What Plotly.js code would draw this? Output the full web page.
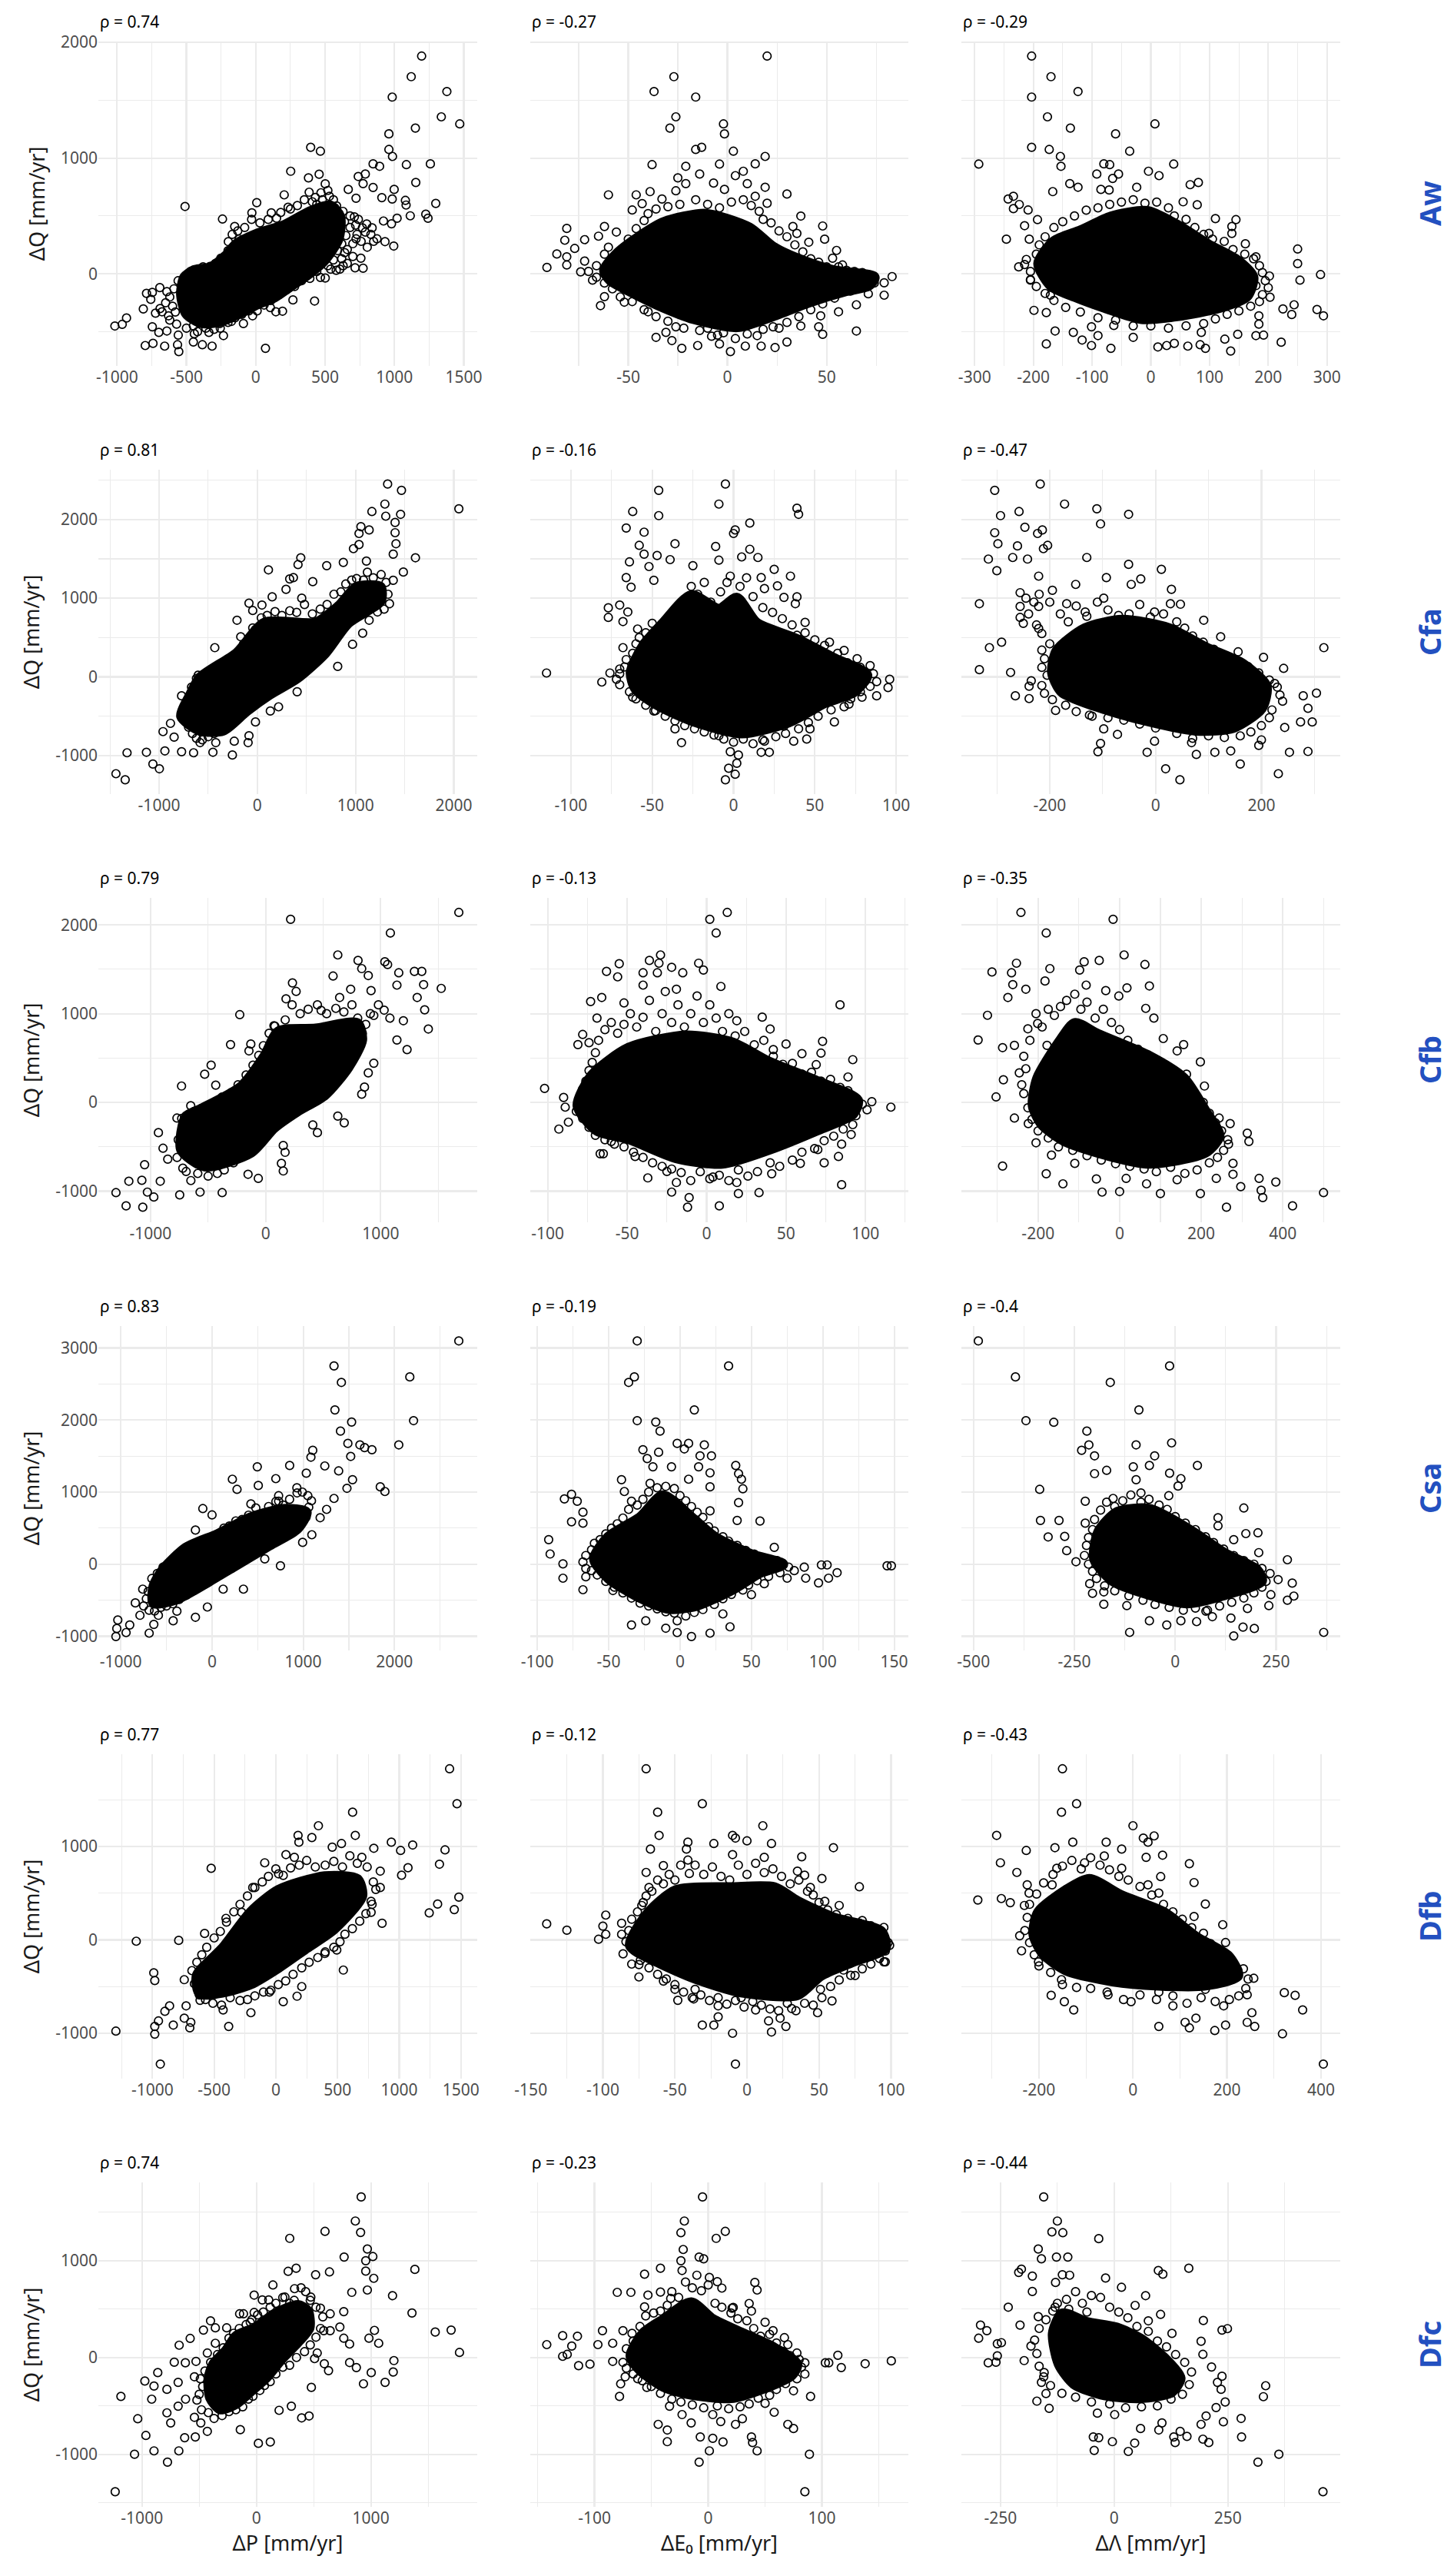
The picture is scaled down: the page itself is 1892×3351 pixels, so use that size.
<!DOCTYPE html>
<html><head><meta charset="utf-8">
<script src="https://cdn.plot.ly/plotly-3.0.1.min.js"></script>
<style>html,body{margin:0;padding:0;background:#fff}</style></head>
<body><div id="chart" style="width:1892px;height:3351px"></div>
<script>
// Values are estimates. *_pts lists hold [x, y] circles that can be told apart.
// *_rim lists hold estimated circles along the crowded edge of each cloud.
// Where circles overlap into solid black they cannot be read one by one, so each *_core list is the
// outline of that solid black region, read from the picture and drawn as a filled shape.
const regions=["Aw","Cfa","Cfb","Csa","Dfb","Dfc"];
const rhoValues=[["0.74","-0.27","-0.29"],["0.81","-0.16","-0.47"],["0.79","-0.13","-0.35"],["0.83","-0.19","-0.4"],["0.77","-0.12","-0.43"],["0.74","-0.23","-0.44"]];
const xTitles=["ΔP [mm/yr]","ΔE₀ [mm/yr]","ΔΛ [mm/yr]"];
const yTitle="ΔQ [mm/yr]";
const yTicks=[[0,1000,2000],[-1000,0,1000,2000],[-1000,0,1000,2000],[-1000,0,1000,2000,3000],[-1000,0,1000],[-1000,0,1000]];
const xTicks=[
[[-1000,-500,0,500,1000,1500],[-50,0,50],[-300,-200,-100,0,100,200,300]],
[[-1000,0,1000,2000],[-100,-50,0,50,100],[-200,0,200]],
[[-1000,0,1000],[-100,-50,0,50,100],[-200,0,200,400]],
[[-1000,0,1000,2000],[-100,-50,0,50,100,150],[-500,-250,0,250]],
[[-1000,-500,0,500,1000,1500],[-150,-100,-50,0,50,100],[-200,0,200,400]],
[[-1000,0,1000],[-100,0,100],[-250,0,250]]];
const yRanges=[[-796,2007],[-1490,2633],[-1350,2305],[-1198,3305],[-1487,1988],[-1543,1809]];
const xRanges=[
[[-1135,1597],[-99.4,91.2],[-322.6,322.6]],
[[-1618,2238],[-125,107.5],[-367,349]],
[[-1454,1839],[-111,127],[-388,541]],
[[-1246,2907],[-104.9,159.9],[-530,409]],
[[-1438,1632],[-150.4,112],[-365,441]],
[[-1381,1929],[-156.5,176],[-336,497]]];

const aw_dP_pts=[[1196,1881],[1121,1703],[1378,1575],[984,1527],[1338,1356],[1471,1295],[1151,1259],[960,1209],[960,1074],[986,1014],[396,1093],[466,1059],[1086,943],[1259,950],[846,950],[893,929],[790,862],[739,841],[252,886],[380,829],[457,860],[774,779],[1154,789],[998,729],[667,729],[846,746],[984,646],[1079,634],[1084,594],[1298,608],[723,653],[909,658],[1114,501],[1226,515],[1242,480],[1019,480],[932,278],[995,240],[979,432],[921,456],[804,230],[758,135],[716,52],[774,48],[205,682],[7,615],[-510,582],[-240,473],[424,-235],[70,-644],[-932,-382],[-963,-437],[-1016,-451],[-811,-304],[-797,-620],[-741,-601],[-657,-625],[-555,-672],[-564,-613],[-385,-613],[-315,-625],[-450,-589],[-233,-534],[193,-323],[145,-328],[268,-226],[-788,-169],[-692,-119],[-641,-154],[-746,-458],[-699,-506],[-641,-494],[-746,-161],[-757,-221],[-723,-340],[-676,-328],[-629,-363],[-571,-435],[-559,-530],[-443,-518],[-338,-506],[-256,-470],[-175,-411],[-89,-430],[-23,-363],[105,-292],[466,-31],[501,-36],[606,40],[641,183],[723,302],[769,397],[839,397],[874,302],[711,492],[629,539],[583,587],[531,670],[501,777],[408,622],[385,705],[233,575],[112,527],[-28,527],[-152,409],[-198,278],[-252,135],[-331,64]];
const aw_dP_rim=[[560,120],[590,200],[620,260],[650,330],[680,400],[640,450],[600,520],[570,570],[620,130],[660,210],[700,260],[730,340],[760,280],[790,360],[720,420],[680,500],[740,470],[800,430],[830,340],[850,280],[660,90],[700,150],[630,70],[580,30],[540,40],[480,640],[520,720],[470,700],[430,660],[560,640],[440,600],[350,640],[300,590],[250,560],[180,530],[150,480],[90,470],[30,440],[-30,470],[-80,400],[-130,370],[-170,340],[-120,300],[-200,200],[-240,110],[-290,90],[-380,60],[-470,20],[-560,-60],[-590,-130],[-620,-200],[-600,-280],[-650,-250],[-690,-300],[-620,-400],[-580,-330],[-500,-470],[-450,-450],[-420,-500],[-360,-470],[-300,-480],[-260,-430],[-200,-420],[-150,-380],[-100,-350],[-50,-320],[10,-320],[60,-270],[110,-230],[170,-180],[220,-140],[280,-110],[330,-60],[390,-40],[440,20],[520,70]];
const aw_dP_core=[[-513,-31],[-443,29],[-326,52],[-210,159],[-140,254],[23,349],[210,420],[396,539],[536,587],[606,492],[594,302],[490,112],[373,-7],[256,-102],[140,-197],[0,-268],[-117,-340],[-256,-411],[-396,-423],[-501,-340],[-536,-173]];
const aw_dE_pts=[[20,1881],[-27,1703],[-37,1575],[-16,1527],[-26,1356],[-2,1295],[-29,1259],[-1.5,1209],[-13,1093],[-16,1074],[3,1059],[19,1014],[-38,943],[-21,929],[-4,948],[14,950],[8,886],[-14,862],[4,848],[-25,829],[-21,779],[-7,784],[10,779],[19,748],[-39,710],[-26,717],[-60,682],[-46,682],[30,689],[-43,606],[-33,646],[-1.5,729],[14,670],[20,610],[37,499],[-48,551],[48,413],[-81,392],[-62,409],[49,299],[-82,290],[-72,295],[-65,325],[-56,361],[33,409],[35,349],[41,273],[55,202],[53,135],[58,76],[-86,171],[-77,219],[-91,55],[-81,76],[-81,147],[-74,17],[-68,-55],[83,-24],[79,-78],[79,-185],[71,-173],[65,-268],[56,-328],[65,-494],[47,-363],[46,-458],[48,-523],[37,-451],[30,-589],[24,-637],[17,-625],[9,-625],[1.5,-672],[-4,-606],[-15,-620],[-23,-644],[-28,-577],[-36,-549],[-31,-506],[-26,-458],[-40,-328],[-52,-245],[-64,-275],[-62,-197],[-5,-530],[15,-534],[23,-458],[-10,-470]];
const aw_dE_rim=[[-58,110],[-52,230],[-50,300],[-46,390],[-42,460],[-40,520],[-36,560],[-30,580],[-24,600],[-16,640],[-10,600],[-4,570],[2,620],[8,640],[12,590],[16,540],[18,470],[22,440],[26,370],[30,320],[34,250],[38,190],[42,130],[46,100],[50,60],[56,60],[60,30],[64,20],[68,10],[70,-50],[74,-80],[66,-110],[62,-150],[54,-210],[48,-260],[42,-310],[36,-370],[30,-420],[26,-470],[18,-480],[10,-520],[4,-560],[-2,-510],[-8,-540],[-14,-490],[-22,-470],[-30,-410],[-36,-370],[-42,-310],[-48,-240],[-54,-200],[-58,-130],[-62,-80],[-66,-30],[-70,20],[-66,70],[-72,110],[-62,170],[-60,230]];
const aw_dE_core=[[-62,29],[-55,183],[-44,325],[-32,444],[-11,515],[11,397],[23,230],[38,112],[53,29],[74,-31],[71,-102],[59,-150],[41,-245],[23,-363],[5,-458],[-17,-388],[-35,-268],[-49,-150],[-59,-55]];
const aw_dL_pts=[[-203,1881],[-170,1703],[-124,1575],[-203,1527],[-176,1356],[7,1295],[-137,1259],[-60,1209],[-203,1093],[-173,1074],[-36,1059],[-154,1014],[-293,948],[-153,929],[-80,950],[-70,943],[39,948],[-4,886],[-92,862],[-55,862],[14,848],[-65,824],[-138,779],[-124,748],[81,789],[67,770],[-24,748],[-167,710],[-85,729],[-71,724],[-234,670],[-243,646],[-224,599],[-234,563],[-209,551],[79,596],[55,622],[110,477],[145,468],[138,409],[138,349],[-193,468],[-215,416],[-246,299],[-207,299],[99,349],[161,259],[250,214],[250,88],[179,147],[202,-19],[289,-7],[254,-55],[203,-202],[244,-268],[225,-304],[240,-352],[283,-309],[294,-363],[222,-591],[192,-530],[179,-534],[148,-523],[136,-667],[126,-565],[93,-644],[84,-613],[63,-625],[40,-601],[27,-620],[12,-632],[-30,-549],[-68,-644],[-90,-534],[-101,-458],[-101,-620],[-117,-572],[-132,-506],[-163,-494],[-178,-606],[-178,-335],[-199,-316],[-63,-447],[86,-506],[184,-363],[184,-435],[-212,124],[-205,-55],[-171,-185],[179,-102]];
const aw_dL_rim=[[-205,20],[-215,80],[-195,170],[-190,250],[-180,320],[-165,400],[-150,450],[-130,500],[-110,550],[-90,570],[-70,600],[-50,620],[-30,640],[-10,610],[10,620],[30,570],[40,500],[60,470],[75,400],[90,340],[105,300],[125,280],[140,210],[160,170],[175,130],[185,70],[190,10],[195,-60],[200,-120],[190,-180],[185,-240],[170,-280],[150,-320],[130,-350],[110,-390],[90,-430],[60,-450],[30,-470],[0,-450],[-30,-450],[-60,-400],[-90,-380],[-120,-330],[-145,-290],[-165,-230],[-180,-170],[-195,-110],[-205,-50],[-225,60]];
const aw_dL_core=[[-191,88],[-165,278],[-119,373],[-68,492],[-6,539],[45,420],[97,254],[148,112],[174,-31],[163,-197],[117,-292],[45,-363],[-16,-387],[-78,-292],[-129,-197],[-170,-102]];

const cfa_dP_pts=[[1326,2451],[1467,2371],[1298,2196],[2051,2136],[1166,2101],[1458,2066],[1307,2042],[1402,1962],[1054,1909],[1138,1867],[1402,1832],[1035,1822],[1411,1692],[1035,1682],[978,1629],[1383,1559],[1609,1514],[442,1514],[414,1427],[706,1413],[875,1455],[1110,1472],[113,1360],[1486,1332],[1383,1227],[367,1262],[329,1245],[564,1210],[292,1112],[151,1017],[452,1000],[-85,937],[47,913],[-47,843],[1345,930],[1223,825],[1138,720],[1072,556],[-207,720],[-47,622],[969,413],[-169,510],[-433,371],[818,133],[405,-189],[216,-381],[132,-434],[-19,-573],[-85,-748],[-94,-836],[-235,-818],[-254,-993],[-452,-958],[-649,-965],[-771,-951],[-941,-941],[-1129,-958],[-1326,-965],[-1063,-1108],[-997,-1168],[-1439,-1231],[-1345,-1308],[-960,-696],[-847,-766],[-884,-591],[-771,-241],[-602,21],[-583,-836],[-423,-836],[-762,-521]];
const cfa_dP_rim=[[-720,-320],[-690,-420],[-740,-560],[-700,-640],[-660,-720],[-620,-780],[-560,-800],[-500,-760],[-440,-720],[-380,-680],[-320,-640],[-270,-580],[-220,-520],[-170,-470],[-100,-400],[-50,-340],[10,-300],[60,-260],[130,-200],[200,-130],[260,-80],[330,-50],[400,30],[470,120],[540,210],[600,280],[660,370],[720,450],[780,560],[830,640],[880,700],[950,760],[1010,820],[1060,880],[1130,950],[1200,900],[1290,860],[1330,1050],[1310,1200],[1260,1300],[1180,1260],[1120,1330],[1080,1230],[1010,1250],[960,1230],[900,1180],[850,1080],[780,1050],[710,920],[640,860],[560,800],[480,920],[400,820],[330,840],[250,780],[180,830],[100,780],[40,750],[-20,600],[-80,500],[-140,420],[-210,300],[-260,200],[-320,130],[-380,90],[-450,60],[-520,20],[-620,-20],[-670,-130]];
const cfa_dP_core=[[-677,-224],[-583,-14],[-207,301],[75,685],[593,685],[828,895],[1016,1140],[1251,1140],[1251,965],[922,685],[687,301],[405,-14],[122,-224],[-113,-434],[-348,-678],[-583,-678],[-771,-503]];
const cfa_dE_pts=[[-5,2451],[-46,2371],[-9,2196],[-62,2101],[39,2143],[40,2066],[-46,2049],[10,1955],[-66,1892],[-55,1839],[1,1867],[0,1822],[-36,1692],[-58,1671],[-11,1657],[10,1622],[-55,1559],[-47,1542],[-39,1490],[-9,1483],[5,1524],[15,1517],[-64,1461],[-52,1402],[-25,1413],[25,1367],[-66,1262],[35,1280],[17,1262],[-63,1140],[-49,1227],[19,1122],[27,1157],[31,1010],[39,1017],[-77,878],[-77,755],[-70,913],[-65,825],[38,930],[-68,703],[-59,608],[44,692],[39,528],[59,441],[68,336],[76,231],[84,143],[96,-31],[95,-136],[88,-241],[79,-259],[71,-346],[62,-573],[47,-661],[45,-790],[37,-818],[22,-958],[17,-958],[3,-993],[-2,-951],[2,-1098],[-3,-1161],[1,-1238],[-5,-1308],[-32,-836],[-36,-661],[-49,-434],[-62,-259],[-81,-66],[-76,49],[-115,49],[-67,126],[-68,371],[-9,-748],[31,-626],[19,-818]];
const cfa_dE_rim=[[-70,100],[-66,220],[-62,300],[-60,420],[-58,500],[-54,560],[-50,680],[-44,620],[-38,780],[-32,900],[-26,1150],[-22,1050],[-18,1200],[-14,950],[-8,1080],[-4,1200],[-2,1280],[4,1150],[8,1260],[12,1020],[18,880],[24,820],[30,740],[36,660],[44,560],[50,470],[56,400],[64,300],[70,180],[78,120],[86,40],[88,-60],[84,-120],[78,-190],[72,-280],[68,-380],[60,-420],[52,-500],[46,-580],[40,-660],[32,-720],[26,-760],[18,-800],[12,-850],[6,-790],[0,-830],[-6,-790],[-12,-740],[-18,-700],[-24,-660],[-30,-620],[-36,-560],[-42,-500],[-48,-430],[-54,-360],[-60,-280],[-64,-190],[-70,-100],[-72,-30],[-70,40]];
const cfa_dE_core=[[-63,56],[-55,406],[-43,685],[-26,1035],[-9,860],[2,1000],[14,685],[39,476],[62,231],[82,21],[74,-189],[56,-329],[34,-573],[5,-713],[-23,-573],[-46,-364],[-60,-154]];
const cfa_dL_pts=[[-218,2451],[-304,2371],[-172,2196],[-111,2136],[-258,2101],[-293,2049],[-51,2066],[-104,1944],[-247,1902],[-214,1867],[-223,1822],[-304,1832],[-298,1692],[-261,1664],[-204,1671],[-212,1629],[-316,1497],[-270,1517],[-242,1497],[-130,1517],[-51,1430],[11,1367],[-300,1350],[-93,1262],[-28,1245],[-46,1175],[30,1112],[-333,930],[28,930],[47,923],[-2,825],[91,720],[-291,441],[-314,371],[-333,91],[-274,56],[318,371],[204,248],[242,108],[123,510],[156,318],[225,-84],[304,-206],[279,-241],[288,-399],[296,-573],[274,-573],[244,-643],[200,-801],[195,-871],[288,-948],[253,-958],[232,-1231],[160,-1108],[142,-941],[112,-958],[77,-986],[46,-1308],[19,-1168],[-16,-958],[-2,-818],[-104,-846],[-109,-951],[-72,-731],[-98,-661],[-189,-427],[-265,-241],[-239,-276],[-239,-119],[-125,-486],[68,-836],[-256,895],[-221,1280],[-256,1070],[-151,1175],[-98,1000],[-221,895],[-168,930],[-221,615],[-256,755],[-133,825]];
const cfa_dL_rim=[[-205,20],[-215,120],[-210,230],[-215,340],[-200,420],[-215,550],[-225,660],[-240,800],[-250,680],[-230,950],[-245,1000],[-220,1050],[-195,1100],[-200,950],[-180,800],[-165,700],[-150,900],[-130,770],[-110,950],[-90,850],[-70,780],[-50,800],[-30,920],[-10,760],[15,800],[40,700],[55,620],[70,520],[90,440],[110,350],[130,260],[150,210],[175,130],[195,50],[215,-40],[230,-130],[235,-230],[240,-310],[220,-420],[215,-520],[200,-620],[180,-700],[160,-750],[130,-770],[100,-750],[70,-780],[40,-720],[0,-650],[-30,-600],[-60,-550],[-90,-520],[-120,-500],[-150,-440],[-170,-360],[-195,-290],[-210,-210],[-215,-110],[-235,-50]];
const cfa_dL_core=[[-195,56],[-186,336],[-133,615],[-63,720],[25,615],[95,371],[165,161],[209,-119],[200,-399],[147,-643],[77,-678],[-28,-538],[-116,-364],[-177,-189]];

const cfb_dP_pts=[[1679,2141],[217,2064],[1084,1909],[627,1662],[803,1600],[1036,1585],[1060,1554],[835,1508],[1293,1477],[1357,1477],[1157,1461],[586,1424],[892,1430],[233,1347],[1373,1328],[1526,1285],[265,1251],[739,1276],[916,1260],[1141,1322],[1317,1183],[177,1168],[643,1183],[-225,989],[1382,1044],[482,1038],[1197,921],[1414,828],[72,865],[1141,704],[1229,596],[-305,652],[-129,658],[-145,581],[-474,420],[940,442],[-530,318],[892,334],[-731,185],[859,173],[835,93],[-434,195],[-651,-37],[627,-154],[683,-229],[410,-253],[450,-340],[153,-485],[169,-562],[137,-686],[153,-772],[-64,-856],[-153,-809],[-378,-1016],[-570,-1010],[-747,-1041],[-972,-1066],[-1028,-1010],[-1301,-1016],[-1189,-887],[-1076,-877],[-1213,-1165],[-1068,-1180],[-1052,-701],[-932,-340],[-892,-516],[-771,-176],[-916,-887],[-851,-639],[-691,-778]];
const cfb_dP_rim=[[-730,-180],[-760,-420],[-770,-620],[-720,-740],[-650,-880],[-590,-800],[-500,-830],[-420,-800],[-360,-760],[-280,-680],[-220,-600],[-150,-530],[-90,-420],[-20,-340],[40,-260],[110,-190],[180,-130],[240,-60],[300,10],[370,60],[450,130],[520,190],[580,300],[640,400],[680,500],[730,620],[780,720],[840,780],[870,880],[910,1000],[980,1100],[1030,1040],[1080,950],[940,980],[800,950],[750,1100],[680,1020],[610,1060],[530,1000],[450,1100],[370,1050],[300,1000],[230,1100],[170,930],[80,860],[30,780],[-20,640],[-60,530],[-110,420],[-170,310],[-240,200],[-300,110],[-380,60],[-470,-30],[-560,-70],[-620,-100]];
const cfb_dP_core=[[-691,-161],[-570,-83],[-209,179],[-8,519],[112,797],[434,828],[795,890],[835,704],[715,395],[514,87],[273,-99],[72,-284],[-129,-562],[-530,-717],[-731,-531]];
const cfb_dE_pts=[[13,2141],[2,2064],[6,1909],[-29,1662],[-36,1600],[-55,1563],[-5,1569],[-30,1569],[-63,1477],[-40,1461],[-31,1461],[-22,1523],[-15,1461],[-2,1492],[-56,1415],[9,1307],[-40,1322],[-19,1276],[84,1100],[-73,1137],[-66,1183],[-52,1121],[-69,951],[35,961],[19,921],[40,828],[-78,766],[-81,652],[-74,673],[73,689],[50,658],[72,556],[92,482],[42,596],[60,550],[69,426],[89,287],[89,133],[104,9],[116,-53],[101,-83],[-102,158],[-90,56],[-89,-53],[-87,-222],[-93,-300],[-67,-578],[-65,-578],[-45,-609],[-37,-850],[-22,-1010],[-11,-1072],[-12,-1180],[8,-1165],[20,-1026],[33,-1016],[19,-902],[41,-803],[85,-927],[83,-609],[74,-680],[91,-361],[85,-470],[59,-686],[70,-531],[-19,-902],[4,-840],[-25,-778],[-60,-439]];
const cfb_dE_rim=[[-82,-100],[-80,40],[-78,150],[-76,240],[-74,360],[-72,450],[-70,560],[-68,700],[-64,820],[-60,900],[-56,780],[-52,880],[-48,1000],[-44,850],[-40,960],[-36,1150],[-32,800],[-28,1000],[-26,1250],[-22,900],[-18,1100],[-14,850],[-10,1000],[-6,1200],[-2,900],[2,1100],[6,950],[10,800],[14,1000],[18,750],[24,800],[30,650],[36,700],[42,520],[48,430],[54,440],[60,320],[66,340],[72,240],[78,260],[84,170],[88,100],[92,60],[98,-20],[94,-150],[92,-250],[86,-300],[80,-380],[74,-430],[68,-520],[60,-560],[54,-650],[46,-720],[40,-680],[32,-780],[26,-830],[20,-760],[14,-880],[8,-820],[2,-860],[-4,-780],[-10,-880],[-16,-790],[-22,-750],[-28,-720],[-34,-680],[-40,-620],[-46,-560],[-52,-500],[-58,-470],[-64,-420],[-70,-370],[-74,-280],[-78,-180]];
const cfb_dE_core=[[-81,-37],[-72,306],[-49,612],[-13,751],[16,673],[39,457],[69,241],[95,25],[92,-130],[69,-315],[39,-531],[10,-686],[-19,-624],[-49,-408],[-69,-315]];
const cfb_dL_pts=[[-242,2141],[-16,2064],[-180,1909],[11,1662],[-50,1600],[-87,1585],[-253,1569],[62,1554],[-171,1508],[-313,1470],[-265,1461],[-98,1492],[-183,1368],[-262,1328],[-82,1322],[73,1313],[18,1291],[-230,1276],[-34,1260],[-274,1183],[-2,1199],[64,1060],[-324,982],[84,951],[107,720],[-347,704],[157,652],[-287,618],[141,581],[198,457],[164,318],[208,185],[-285,256],[-303,62],[-258,-176],[-224,-238],[203,-37],[244,-176],[271,-238],[313,-346],[317,-439],[267,-470],[-205,-454],[-167,-593],[-287,-717],[-180,-803],[-139,-917],[-43,-1010],[0,-1004],[-57,-862],[16,-856],[66,-917],[100,-1026],[198,-1026],[262,-1180],[297,-948],[347,-989],[351,-1072],[383,-896],[342,-856],[424,-1165],[500,-1016],[237,-856],[278,-809],[141,-871],[278,-686],[-110,-686],[-246,334],[-258,643],[-201,890],[-178,643]];
const cfb_dL_rim=[[-225,-60],[-235,100],[-240,200],[-230,380],[-235,520],[-220,700],[-225,830],[-205,1000],[-190,850],[-175,1050],[-160,980],[-145,1080],[-130,1150],[-110,1220],[-95,1050],[-80,1130],[-60,950],[-40,1050],[-20,900],[0,820],[20,700],[45,600],[70,530],[95,430],[120,360],[145,260],[170,170],[185,90],[205,0],[220,-120],[235,-230],[250,-320],[265,-420],[255,-540],[240,-620],[220,-680],[190,-760],[160,-800],[125,-730],[90,-780],[60,-750],[25,-720],[-10,-690],[-45,-650],[-80,-600],[-115,-540],[-150,-500],[-175,-400],[-200,-320],[-215,-190]];
const cfb_dL_core=[[-212,-37],[-201,272],[-144,704],[-110,890],[-53,766],[73,519],[157,272],[210,-99],[244,-377],[210,-562],[73,-686],[-30,-593],[-132,-439],[-189,-253]];

const csa_dP_pts=[[2705,3099],[1337,2752],[2168,2599],[1418,2523],[1347,2141],[1530,1973],[2209,1992],[1408,1847],[1489,1676],[2047,1656],[1621,1656],[1672,1618],[1753,1588],[1104,1580],[1520,1496],[1084,1485],[496,1351],[851,1370],[1236,1363],[1388,1294],[1033,1263],[699,1187],[223,1179],[1540,1172],[507,1092],[274,1038],[1479,1053],[1844,1073],[1895,1008],[1337,912],[-101,771],[1256,760],[0,683],[-182,473],[1094,408],[993,302],[750,-23],[344,-347],[-51,-595],[-182,-737],[-426,-786],[-638,-836],[-689,-958],[-902,-844],[-942,-950],[-1033,-775],[-1044,-893],[-1054,-1004],[-790,-710],[-841,-538],[-760,-347],[-537,-42],[-284,206],[426,836],[730,874],[1185,645],[932,989],[730,950],[-385,-653],[-588,-710],[122,-347],[578,73]];
const csa_dP_rim=[[-660,-200],[-700,-380],[-720,-480],[-750,-580],[-690,-640],[-630,-650],[-560,-600],[-500,-580],[-430,-550],[-360,-490],[-280,-430],[-220,-370],[-140,-300],[-70,-240],[0,-190],[70,-120],[140,-70],[220,-20],[300,50],[400,130],[480,200],[560,250],[640,330],[720,410],[800,490],[880,560],[960,640],[1030,650],[1060,790],[1090,880],[1050,950],[990,1000],[930,1060],[850,900],[780,820],[700,870],[620,800],[560,700],[480,780],[400,680],[330,620],[260,600],[190,530],[130,500],[60,420],[0,340],[-60,320],[-120,260],[-180,170],[-230,130],[-310,60],[-380,0],[-450,-60],[-530,-90],[-600,-130]];
const csa_dP_core=[[-638,-309],[-537,-80],[-284,225],[71,416],[426,645],[780,760],[1033,721],[932,492],[628,263],[223,-42],[-30,-233],[-385,-481],[-638,-538]];
const csa_dE_pts=[[-30,3099],[34,2752],[-32,2599],[-36,2523],[10,2141],[-30,1992],[-17,1973],[-14,1847],[-2,1676],[17,1656],[6,1676],[3,1600],[-26,1588],[-15,1553],[14,1504],[22,1504],[-23,1466],[39,1370],[-19,1351],[-6,1351],[13,1351],[21,1267],[41,1256],[-41,1172],[6,1179],[43,1179],[-39,1008],[-21,1122],[21,1073],[44,1046],[-76,969],[-81,905],[-72,874],[-34,874],[41,855],[21,740],[-68,721],[40,607],[56,599],[-76,588],[-68,569],[-92,340],[66,233],[-91,141],[-82,4],[-82,-195],[-68,-355],[-66,-176],[99,-11],[103,-11],[145,-23],[148,-23],[110,-118],[87,-42],[104,-195],[97,-260],[88,-195],[75,-195],[30,-691],[35,-870],[21,-958],[8,-1004],[-2,-950],[-10,-889],[-24,-786],[-34,-844],[-2,-786],[-47,-366],[50,-424],[59,-271],[-53,-118]];
const csa_dE_rim=[[-66,-60],[-68,30],[-66,120],[-62,200],[-60,290],[-56,340],[-52,420],[-48,500],[-44,560],[-40,640],[-36,760],[-30,820],[-26,900],[-22,1000],[-16,1060],[-10,1080],[-4,1050],[0,950],[4,880],[8,800],[12,720],[16,650],[20,520],[24,460],[30,380],[34,320],[40,260],[46,190],[52,140],[60,60],[68,50],[76,-40],[80,-90],[70,-120],[62,-170],[54,-230],[48,-290],[44,-360],[36,-420],[30,-480],[24,-560],[16,-630],[10,-670],[4,-720],[-4,-680],[-10,-660],[-16,-620],[-22,-580],[-28,-540],[-34,-470],[-40,-400],[-46,-320],[-52,-240],[-58,-150],[-62,-90]];
const csa_dE_core=[[-60,73],[-50,378],[-28,645],[-12,950],[8,645],[24,378],[50,130],[72,-4],[56,-118],[37,-347],[11,-576],[-8,-615],[-28,-462],[-50,-195]];
const csa_dL_pts=[[-488,3099],[-14,2752],[-396,2599],[-161,2523],[-90,2141],[-370,1992],[-301,1969],[-219,1847],[-214,1656],[-97,1656],[-9,1683],[-232,1580],[-200,1504],[-51,1504],[-170,1302],[-64,1370],[55,1370],[-104,1351],[-14,1263],[-200,1256],[14,1187],[-97,1172],[-336,1038],[7,1084],[170,779],[-334,607],[-288,607],[106,645],[-315,378],[-274,385],[175,424],[205,435],[106,531],[145,340],[207,160],[278,61],[-269,187],[-246,34],[-212,-271],[-177,-385],[-205,-405],[-177,-557],[-120,-576],[-64,-786],[-113,-947],[-21,-844],[14,-786],[53,-798],[92,-729],[138,-748],[168,-874],[196,-893],[145,-996],[368,-947],[294,-443],[278,-500],[290,-263],[255,-214],[232,-576],[179,-615],[237,-424],[-154,912],[-85,989],[-16,950],[-223,874],[-223,569],[76,-653]];
const csa_dL_rim=[[-215,0],[-225,120],[-220,260],[-215,370],[-205,480],[-200,620],[-185,750],[-170,860],[-150,800],[-130,880],[-110,960],[-85,860],[-65,900],[-40,820],[-20,760],[0,660],[25,570],[50,480],[75,380],[95,300],[120,210],[145,120],[170,50],[195,0],[215,-60],[235,-130],[225,-240],[215,-320],[195,-400],[170,-470],[140,-530],[110,-580],[80,-640],[50,-610],[20,-640],[-15,-600],[-50,-560],[-80,-500],[-115,-440],[-150,-370],[-175,-300],[-195,-200],[-205,-100]];
const csa_dL_core=[[-200,73],[-189,454],[-143,721],[-62,760],[41,454],[122,149],[202,-80],[214,-233],[122,-424],[30,-538],[-62,-424],[-154,-233]];

const dfb_dP_pts=[[1408,1832],[1468,1458],[622,1367],[345,1222],[180,1119],[644,1119],[292,1096],[187,1046],[936,1046],[1109,1016],[532,1031],[1371,963],[1011,957],[457,993],[794,981],[150,884],[82,913],[-90,825],[-524,766],[1326,810],[1071,772],[1019,692],[-187,560],[846,560],[1483,457],[1311,383],[1446,324],[1243,289],[-404,230],[861,177],[-577,68],[-787,-6],[-1131,-15],[494,-109],[397,-147],[547,-324],[210,-501],[172,-604],[60,-663],[-202,-781],[-382,-928],[-989,-353],[-981,-436],[-742,-427],[-861,-707],[-899,-766],[-951,-869],[-981,-928],[-981,-1010],[-1296,-978],[-936,-1331],[-831,-913],[-689,-884],[-742,-839],[-697,-943],[-727,-707],[-427,-751],[-614,-648],[-52,-560],[-502,-589],[772,412],[772,295],[846,736],[697,884],[22,707],[-277,295]];
const dfb_dP_rim=[[-660,-470],[-680,-330],[-640,-240],[-600,-160],[-560,-80],[-500,20],[-450,90],[-400,190],[-340,300],[-290,380],[-230,470],[-170,560],[-110,620],[-60,680],[0,760],[60,690],[120,770],[190,800],[250,850],[320,780],[400,800],[470,840],[540,780],[600,900],[660,820],[740,780],[790,620],[810,540],[780,380],[730,280],[680,200],[620,120],[560,60],[520,-20],[470,-80],[400,-130],[340,-190],[270,-240],[210,-300],[140,-370],[80,-440],[20,-480],[-40,-540],[-100,-560],[-170,-600],[-230,-640],[-290,-650],[-370,-620],[-440,-700],[-510,-680],[-570,-640],[-620,-590]];
const dfb_dP_core=[[-637,-383],[-427,-88],[-202,295],[22,530],[397,677],[659,648],[697,471],[472,118],[247,-88],[22,-295],[-202,-471],[-427,-560],[-614,-574]];
const dfb_dE_pts=[[-70,1832],[-31,1458],[-62,1367],[11,1222],[-61,1119],[-10,1119],[-8,1090],[-41,1046],[0,1060],[17,1031],[60,987],[-67,972],[-23,1031],[-42,972],[38,890],[12,884],[-58,795],[-70,722],[-41,854],[-10,913],[78,568],[52,657],[35,736],[40,692],[-68,560],[44,560],[64,368],[54,412],[-73,368],[80,206],[95,133],[99,-59],[95,-236],[-98,265],[-87,177],[-100,147],[-139,171],[-125,103],[-98,59],[-103,6],[-87,59],[-75,-265],[-75,-398],[-58,-442],[-50,-530],[-48,-648],[-37,-633],[-20,-707],[-20,-825],[-31,-913],[-23,-913],[-10,-1001],[-8,-1331],[15,-869],[27,-928],[17,-987],[23,-839],[49,-781],[59,-654],[6,-751],[31,-736],[75,-383],[96,-236],[51,-530],[-4,-619],[67,-324],[-36,-530]];
const dfb_dE_rim=[[-86,-150],[-84,-20],[-82,100],[-80,220],[-76,300],[-72,400],[-70,470],[-66,520],[-62,640],[-58,600],[-54,700],[-50,640],[-46,800],[-40,710],[-36,800],[-30,700],[-24,780],[-18,680],[-12,640],[-6,800],[0,700],[6,820],[12,720],[18,760],[24,680],[30,600],[36,640],[42,520],[46,480],[50,400],[56,320],[62,270],[70,230],[78,180],[86,150],[92,60],[98,-30],[96,-120],[92,-200],[86,-260],[80,-310],[72,-380],[64,-430],[58,-500],[52,-620],[46,-700],[40,-680],[34,-760],[28,-680],[22,-760],[16,-740],[10,-700],[4,-660],[-2,-720],[-8,-650],[-14,-690],[-20,-620],[-26,-650],[-32,-590],[-38,-620],[-44,-560],[-50,-480],[-56,-420],[-62,-370],[-68,-300],[-74,-220],[-80,-260]];
const dfb_dE_core=[[-81,-59],[-68,295],[-49,530],[-10,560],[19,560],[35,412],[60,236],[93,88],[96,-88],[73,-236],[51,-383],[35,-589],[-4,-560],[-36,-412],[-62,-236]];
const dfb_dL_pts=[[-150,1832],[-120,1458],[-152,1367],[0,1222],[-290,1119],[45,1113],[22,1090],[32,1046],[-128,1046],[-57,1046],[-166,987],[-24,972],[-227,957],[63,907],[28,884],[-61,898],[-282,825],[120,816],[-247,722],[130,613],[59,677],[32,589],[-330,427],[-280,442],[-261,398],[-231,368],[-225,589],[154,383],[191,162],[130,250],[-241,44],[-237,-118],[197,-29],[197,-177],[223,-324],[257,-412],[243,-589],[322,-566],[345,-595],[361,-751],[253,-781],[243,-884],[259,-928],[197,-913],[174,-972],[318,-1007],[405,-1331],[134,-839],[111,-884],[120,-943],[55,-928],[-126,-751],[-146,-663],[-174,-595],[-152,-427],[-4,-663],[85,-707],[-53,-589],[193,-707],[-201,-236],[-162,766],[-103,825],[-24,766],[-221,501],[-172,589],[55,501],[154,-530],[55,-560]];
const dfb_dL_rim=[[-220,-30],[-230,100],[-225,240],[-220,380],[-205,490],[-190,610],[-170,700],[-150,790],[-130,850],[-110,760],[-90,880],[-70,800],[-50,750],[-30,680],[-10,640],[15,570],[40,480],[65,380],[85,300],[105,220],[125,130],[150,70],[165,-40],[185,-130],[200,-200],[215,-270],[235,-310],[245,-420],[240,-520],[225,-600],[205,-640],[175,-660],[145,-620],[115,-680],[85,-600],[50,-640],[15,-590],[-20,-640],[-55,-560],[-90,-520],[-120,-510],[-150,-480],[-175,-350],[-200,-280],[-210,-160]];
const dfb_dL_core=[[-211,59],[-201,295],[-142,530],[-93,648],[-24,471],[65,295],[134,29],[203,-177],[223,-383],[154,-486],[55,-486],[-43,-442],[-142,-324],[-191,-147]];

const dfc_dP_pts=[[915,1659],[864,1410],[599,1303],[910,1292],[291,1231],[969,1121],[1017,1043],[766,1038],[955,1000],[347,922],[1384,910],[277,890],[955,893],[638,884],[1025,818],[517,855],[144,749],[333,711],[969,697],[833,673],[1189,639],[-20,645],[1359,460],[763,474],[1031,280],[1562,263],[1701,283],[729,315],[763,199],[983,199],[1068,147],[814,139],[1774,52],[1201,-32],[814,-52],[593,-64],[873,-104],[531,46],[508,-12],[630,-136],[1003,-156],[1195,-150],[1124,-257],[935,-272],[480,-309],[305,-503],[198,-546],[460,-604],[395,-624],[-141,-746],[121,-873],[17,-887],[-534,-821],[-429,-763],[-627,-829],[-678,-965],[-777,-1081],[-895,-965],[-1065,-1000],[-1234,-1387],[-966,-806],[-1037,-633],[-1184,-402],[-915,-431],[-975,-243],[-895,-295],[-862,-156],[-782,-329],[-782,-572],[-749,-676],[-684,-503],[-684,-257],[-718,-49],[-621,-55],[-675,127],[-579,197],[-463,283],[-401,379],[-359,147],[-429,46],[-528,-40],[-542,-199],[-619,-431],[-542,-618],[-486,-676],[-147,451],[-113,451],[-260,306],[-359,306],[-20,465],[-54,364],[588,277],[644,277],[559,509],[475,624],[644,451],[249,624],[107,595],[51,595]];
const dfc_dP_rim=[[-470,-300],[-500,-380],[-520,-440],[-480,-540],[-420,-570],[-370,-630],[-300,-600],[-240,-560],[-180,-540],[-120,-510],[-70,-430],[-30,-400],[30,-340],[70,-290],[120,-250],[170,-170],[230,-100],[290,-80],[350,0],[420,60],[470,130],[520,210],[560,300],[580,420],[520,520],[470,590],[430,680],[390,720],[330,590],[290,560],[230,620],[170,560],[120,520],[60,470],[10,440],[-40,390],[-90,340],[-150,300],[-200,250],[-240,200],[-290,100],[-340,30],[-400,-50],[-450,-140],[-490,-220]];
const dfc_dP_core=[[-415,-214],[-373,-69],[-260,75],[-175,220],[-6,306],[164,451],[362,538],[446,480],[460,306],[362,162],[220,-12],[79,-214],[-34,-329],[-175,-474],[-316,-532],[-401,-416]];
const dfc_dE_pts=[[-5,1659],[-21,1410],[-24,1289],[15,1303],[7,1231],[-22,1116],[-8,1038],[-4,1020],[-24,1000],[-42,922],[-56,861],[-23,899],[41,775],[43,697],[-80,673],[-68,673],[1,827],[8,783],[12,717],[-53,645],[-42,676],[-33,610],[36,558],[-56,523],[22,517],[38,480],[50,364],[-93,277],[-75,277],[-115,220],[-128,225],[-67,249],[57,277],[67,205],[-142,133],[-120,118],[-97,133],[-84,147],[70,133],[78,46],[114,23],[103,-55],[106,-55],[138,-64],[161,-35],[117,-104],[85,-55],[85,-171],[-114,-84],[-128,12],[-124,32],[-104,-69],[-84,-40],[-73,-199],[-62,-220],[-77,-272],[-78,-402],[-54,-309],[75,-344],[90,-402],[58,-566],[50,-474],[-34,-503],[-44,-691],[-36,-749],[-36,-870],[-7,-821],[4,-835],[13,-873],[1,-965],[-8,-1081],[38,-821],[39,-879],[43,-965],[70,-691],[75,-734],[89,-1000],[85,-1387],[11,-662],[24,-691],[-15,-676],[-23,-590],[4,-590],[30,-633],[21,509]];
const dfc_dE_rim=[[-75,-50],[-72,90],[-66,170],[-60,320],[-55,430],[-48,460],[-42,480],[-36,540],[-32,680],[-26,620],[-20,780],[-14,720],[-10,850],[-6,690],[0,750],[6,560],[12,520],[20,460],[26,400],[34,380],[40,300],[46,220],[54,240],[60,150],[66,60],[72,20],[80,-20],[82,-100],[78,-220],[68,-270],[60,-330],[54,-390],[44,-420],[36,-480],[28,-510],[18,-530],[8,-500],[-4,-520],[-14,-490],[-24,-460],[-32,-430],[-42,-370],[-50,-300],[-58,-240],[-66,-170],[-72,-110]];
const dfc_dE_core=[[-68,17],[-57,249],[-39,393],[-15,566],[4,393],[30,249],[57,104],[78,-69],[73,-185],[46,-329],[20,-416],[-12,-387],[-39,-301],[-60,-127]];
const dfc_dL_pts=[[-155,1659],[-125,1410],[-137,1298],[-113,1289],[-34,1228],[-167,1121],[-127,1038],[-102,1038],[-160,1020],[164,922],[97,899],[107,861],[-204,913],[-210,879],[-180,841],[-98,850],[-19,821],[-129,775],[16,725],[-180,682],[69,639],[-233,520],[46,538],[102,445],[196,382],[249,298],[237,283],[-294,335],[-280,277],[-298,199],[-257,142],[-248,153],[-207,335],[191,168],[75,379],[127,249],[-257,17],[-277,-55],[-260,-49],[-198,-32],[195,32],[214,-98],[237,-194],[333,-292],[227,-257],[328,-405],[244,-460],[235,-329],[224,-517],[279,-630],[240,-665],[202,-604],[191,-691],[280,-821],[208,-879],[195,-844],[160,-815],[134,-879],[131,-821],[145,-763],[58,-734],[45,-884],[31,-971],[-4,-870],[-34,-829],[-46,-821],[-44,-960],[362,-1000],[316,-1081],[459,-1387],[-170,-451],[-143,-526],[-150,-373],[-160,-257],[-37,-575],[1,-590],[105,-676],[98,-749],[-154,-156],[-183,118],[-167,422],[-114,855]];
const dfc_dL_rim=[[-170,40],[-175,180],[-165,300],[-150,390],[-135,480],[-125,560],[-105,600],[-85,680],[-70,560],[-50,640],[-30,620],[-10,520],[10,470],[30,410],[50,320],[75,270],[95,170],[115,110],[135,30],[155,-50],[170,-150],[165,-280],[150,-380],[125,-430],[95,-500],[60,-510],[25,-520],[-10,-480],[-50,-460],[-85,-410],[-115,-370],[-140,-290],[-155,-200],[-165,-90],[-130,520],[-100,500],[-60,470]];
const dfc_dL_core=[[-134,249],[-114,451],[-61,364],[5,306],[58,191],[111,-12],[145,-214],[125,-358],[58,-416],[-21,-387],[-88,-272],[-121,-69]];

const allPts=[[aw_dP_pts.concat(aw_dP_rim),aw_dE_pts.concat(aw_dE_rim),aw_dL_pts.concat(aw_dL_rim)],[cfa_dP_pts.concat(cfa_dP_rim),cfa_dE_pts.concat(cfa_dE_rim),cfa_dL_pts.concat(cfa_dL_rim)],[cfb_dP_pts.concat(cfb_dP_rim),cfb_dE_pts.concat(cfb_dE_rim),cfb_dL_pts.concat(cfb_dL_rim)],[csa_dP_pts.concat(csa_dP_rim),csa_dE_pts.concat(csa_dE_rim),csa_dL_pts.concat(csa_dL_rim)],[dfb_dP_pts.concat(dfb_dP_rim),dfb_dE_pts.concat(dfb_dE_rim),dfb_dL_pts.concat(dfb_dL_rim)],[dfc_dP_pts.concat(dfc_dP_rim),dfc_dE_pts.concat(dfc_dE_rim),dfc_dL_pts.concat(dfc_dL_rim)]];
const allCore=[[aw_dP_core,aw_dE_core,aw_dL_core],[cfa_dP_core,cfa_dE_core,cfa_dL_core],[cfb_dP_core,cfb_dE_core,cfb_dL_core],[csa_dP_core,csa_dE_core,csa_dL_core],[dfb_dP_core,dfb_dE_core,dfb_dL_core],[dfc_dP_core,dfc_dE_core,dfc_dL_core]];

const W=1892,H=3351;
const colL=[128,690,1251],colR=[621,1182,1744];
const rowT=[54,611,1168,1725,2282,2839],rowB=[476,1033,1590,2147,2704,3261];
const FONT='"Noto Sans", sans-serif';
const GRID='#ebebeb';
function minors(t,r){const s=(t[1]-t[0])/2,o=[];for(let v=t[0]-s*20;v<=r[1];v+=2*s){const m=v+s;if(m>=r[0]&&m<=r[1])o.push(m);}return o;}
const traces=[],annotations=[],layout={width:W,height:H,margin:{l:0,r:0,t:0,b:0},paper_bgcolor:'#fff',plot_bgcolor:'#fff',showlegend:false,font:{family:FONT}};
function axis(ticks,range,labels){return {range:range,tickmode:'array',tickvals:ticks,ticktext:ticks.map(String),showticklabels:labels,ticks:'',showgrid:true,gridcolor:GRID,gridwidth:2.2,zeroline:false,showline:false,tickfont:{family:FONT,size:21,color:'#4d4d4d'},minor:{tickmode:'array',tickvals:minors(ticks,range),showgrid:true,gridcolor:GRID,gridwidth:1.1,ticks:''}};}
for(let r=0;r<6;r++){for(let c=0;c<3;c++){
 const n=r*3+c+1,sx=n===1?'':n,xa='xaxis'+sx,ya='yaxis'+sx;
 const xax=axis(xTicks[r][c],xRanges[r][c],true);
 xax.domain=[colL[c]/W,colR[c]/W];xax.anchor='y'+sx;
 if(r===5)xax.title={text:xTitles[c],font:{family:FONT,size:27,color:'#1a1a1a'},standoff:8};
 const yax=axis(yTicks[r],yRanges[r],c===0);
 yax.domain=[1-rowB[r]/H,1-rowT[r]/H];yax.anchor='x'+sx;
 if(c===0)yax.title={text:yTitle,font:{family:FONT,size:27,color:'#1a1a1a'},standoff:12};
 layout[xa]=xax;layout[ya]=yax;
 const core=allCore[r][c],pts=allPts[r][c];
 const cx=core.map(p=>p[0]),cy=core.map(p=>p[1]);cx.push(cx[0]);cy.push(cy[0]);
 traces.push({type:'scatter',mode:'lines',x:cx,y:cy,fill:'toself',fillcolor:'#000',line:{color:'#000',width:14,shape:'spline',smoothing:0.7},xaxis:'x'+sx,yaxis:'y'+sx,hoverinfo:'skip'});
 traces.push({type:'scatter',mode:'markers',x:pts.map(p=>p[0]),y:pts.map(p=>p[1]),marker:{symbol:'circle-open',size:10.5,color:'#000',line:{width:1.7,color:'#000'}},xaxis:'x'+sx,yaxis:'y'+sx,hoverinfo:'skip'});
 annotations.push({xref:'paper',yref:'paper',x:colL[c]/W,y:1-(rowT[r]-26)/H,xanchor:'left',yanchor:'middle',showarrow:false,text:'ρ = '+rhoValues[r][c],font:{family:FONT,size:21,color:'#000'}});
}
 annotations.push({xref:'paper',yref:'paper',x:1860/W,y:1-((rowT[r]+rowB[r])/2)/H,xanchor:'center',yanchor:'middle',textangle:-90,showarrow:false,text:'<b>'+regions[r]+'</b>',font:{family:FONT,size:38,color:'#2350c0'}});
}
layout.annotations=annotations;
Plotly.newPlot('chart',traces,layout,{staticPlot:true,displayModeBar:false});
</script></body></html>
